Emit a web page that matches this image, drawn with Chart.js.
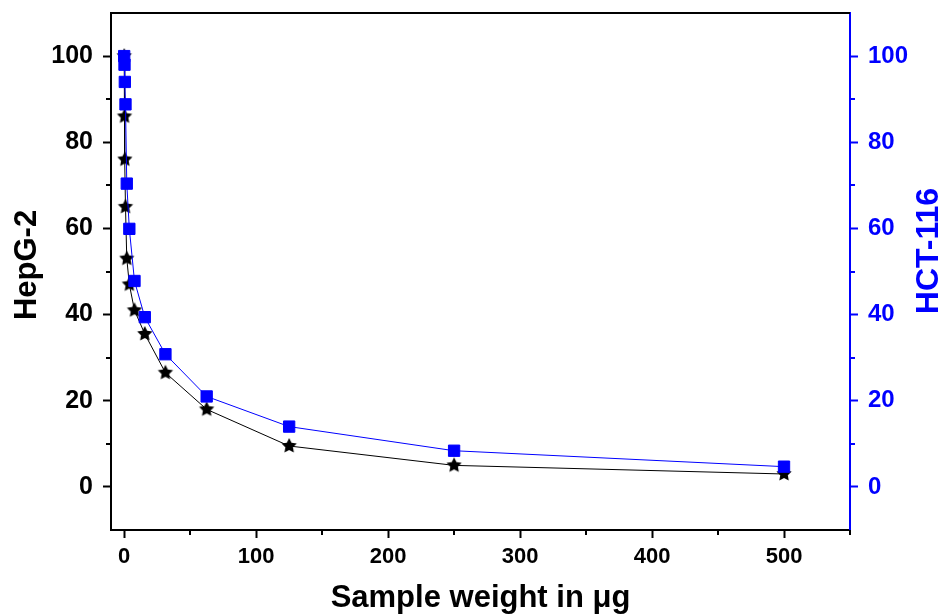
<!DOCTYPE html>
<html>
<head>
<meta charset="utf-8">
<script src="https://cdn.jsdelivr.net/npm/chart.js@4.4.0/dist/chart.umd.min.js"></script>
<style>
    html, body { margin: 0; padding: 0; background: #fff; }
    #wrap { width: 944px; height: 614px; }
</style>
</head>
<body>
<div id="wrap"><canvas id="chart"></canvas></div>
<script>
// sample weight (ug) and cell viability readings
const doses = [0, 0.24, 0.49, 0.98, 1.95, 3.9, 7.8, 15.6, 31.25, 62.5, 125, 250, 500];
const hepg2 = [100, 86, 76, 65, 53, 47, 41, 35.5, 26.5, 18, 9.5, 5, 3];
const hct116 = [100, 98, 94, 88.8, 70.4, 59.9, 47.8, 39.4, 30.8, 21, 14, 8.4, 4.7];

const xTicks = [0, 100, 200, 300, 400, 500];
const xMinor = [50, 150, 250, 350, 450, 550];
const yTicks = [0, 20, 40, 60, 80, 100];
const yMinor = [10, 30, 50, 70, 90];

const FONT = '"Liberation Sans", Arial, sans-serif';
const BLUE = '#0000ff';

// filled star marker
function makeStar(r) {
    const c = document.createElement('canvas');
    c.width = c.height = r * 2 + 2;
    const g = c.getContext('2d');
    g.translate(r + 1, r + 1);
    g.beginPath();
    for (let i = 0; i < 10; i++) {
        const rad = i % 2 === 0 ? r : r * 0.5;
        const a = -Math.PI / 2 + i * Math.PI / 5;
        g.lineTo(rad * Math.cos(a), rad * Math.sin(a));
    }
    g.closePath();
    g.fillStyle = '#000';
    g.fill();
    return c;
}
const star = makeStar(8);

function pts(ys) {
    return doses.map((d, i) => ({ x: d, y: ys[i] }));
}

// keep the plot box fixed, no extra room for edge labels
function noPad(s) {
    s.paddingTop = 0; s.paddingBottom = 0; s.paddingLeft = 0; s.paddingRight = 0;
}

const extras = {
    id: 'extras',
    afterDraw(chart) {
        const ctx = chart.ctx, a = chart.chartArea;
        const sx = chart.scales.x, sy = chart.scales.y, sy1 = chart.scales.y1;
        ctx.save();
        ctx.lineWidth = 2;
        ctx.strokeStyle = '#000';
        ctx.beginPath();
        ctx.moveTo(a.left - 1, a.top);
        ctx.lineTo(a.right, a.top);
        ctx.stroke();
        xMinor.forEach(v => {
            const px = Math.round(sx.getPixelForValue(v));
            ctx.beginPath(); ctx.moveTo(px, a.bottom); ctx.lineTo(px, a.bottom + 5); ctx.stroke();
        });
        yMinor.forEach(v => {
            const py = Math.round(sy.getPixelForValue(v));
            ctx.beginPath(); ctx.moveTo(a.left, py); ctx.lineTo(a.left - 5, py); ctx.stroke();
        });
        ctx.strokeStyle = BLUE;
        yMinor.forEach(v => {
            const py = Math.round(sy1.getPixelForValue(v));
            ctx.beginPath(); ctx.moveTo(a.right, py); ctx.lineTo(a.right + 5, py); ctx.stroke();
        });
        // y titles, both read bottom to top
        ctx.textAlign = 'center';
        ctx.textBaseline = 'middle';
        ctx.fillStyle = '#000';
        ctx.save();
        ctx.font = 'bold 31px ' + FONT;
        ctx.translate(27, 265);
        ctx.rotate(-Math.PI / 2);
        ctx.fillText('HepG-2', 0, 0);
        ctx.restore();
        ctx.font = 'bold 32px ' + FONT;
        ctx.fillStyle = BLUE;
        ctx.translate(929, 251);
        ctx.rotate(-Math.PI / 2);
        ctx.fillText('HCT-116', 0, 0);
        ctx.restore();
    }
};

new Chart(document.getElementById('chart'), {
    type: 'line',
    data: {
        datasets: [{
            label: 'HepG-2',
            data: pts(hepg2),
            yAxisID: 'y',
            borderColor: '#000',
            borderWidth: 1,
            pointStyle: star,
            pointRadius: 8,
            order: 1
        }, {
            label: 'HCT-116',
            data: pts(hct116),
            yAxisID: 'y1',
            borderColor: BLUE,
            borderWidth: 1,
            backgroundColor: BLUE,
            pointStyle: 'rect',
            pointRadius: 8,
            pointBorderWidth: 1,
            pointBorderColor: BLUE,
            pointBackgroundColor: BLUE,
            order: 0
        }]
    },
    options: {
        responsive: true,
        maintainAspectRatio: false,
        animation: false,
        layout: { padding: { top: 13, left: 0, right: 0, bottom: 0 } },
        plugins: { legend: { display: false }, tooltip: { enabled: false } },
        scales: {
            x: {
                type: 'linear',
                min: -10,
                max: 550,
                afterBuildTicks: s => { s.ticks = xTicks.map(v => ({ value: v })); },
                afterFit: s => { s.height = 84; noPad(s); },
                grid: { drawOnChartArea: false, tickLength: 8, tickWidth: 2, tickColor: '#000' },
                border: { color: '#000', width: 2 },
                ticks: { color: '#000', padding: 6, maxRotation: 0, font: { family: FONT, size: 22, weight: 'bold' } },
                title: {
                    display: true,
                    text: 'Sample weight in μg',
                    color: '#000',
                    padding: { top: 0, bottom: -3 },
                    font: { family: FONT, size: 31, weight: 'bold' }
                }
            },
            y: {
                position: 'left',
                min: -10,
                max: 110,
                afterBuildTicks: s => { s.ticks = yTicks.map(v => ({ value: v })); },
                afterFit: s => { s.width = 111; noPad(s); },
                grid: { drawOnChartArea: false, tickLength: 8, tickWidth: 2, tickColor: '#000' },
                border: { color: '#000', width: 2 },
                ticks: { color: '#000', padding: 10, font: { family: FONT, size: 25, weight: 'bold' } }
            },
            y1: {
                position: 'right',
                min: -10,
                max: 110,
                afterBuildTicks: s => { s.ticks = yTicks.map(v => ({ value: v })); },
                afterFit: s => { s.width = 94; noPad(s); },
                grid: { drawOnChartArea: false, tickLength: 8, tickWidth: 2, tickColor: BLUE },
                border: { color: BLUE, width: 2 },
                ticks: { color: BLUE, padding: 10, font: { family: FONT, size: 24, weight: 'bold' } }
            }
        }
    },
    plugins: [extras]
});
</script>
</body>
</html>
